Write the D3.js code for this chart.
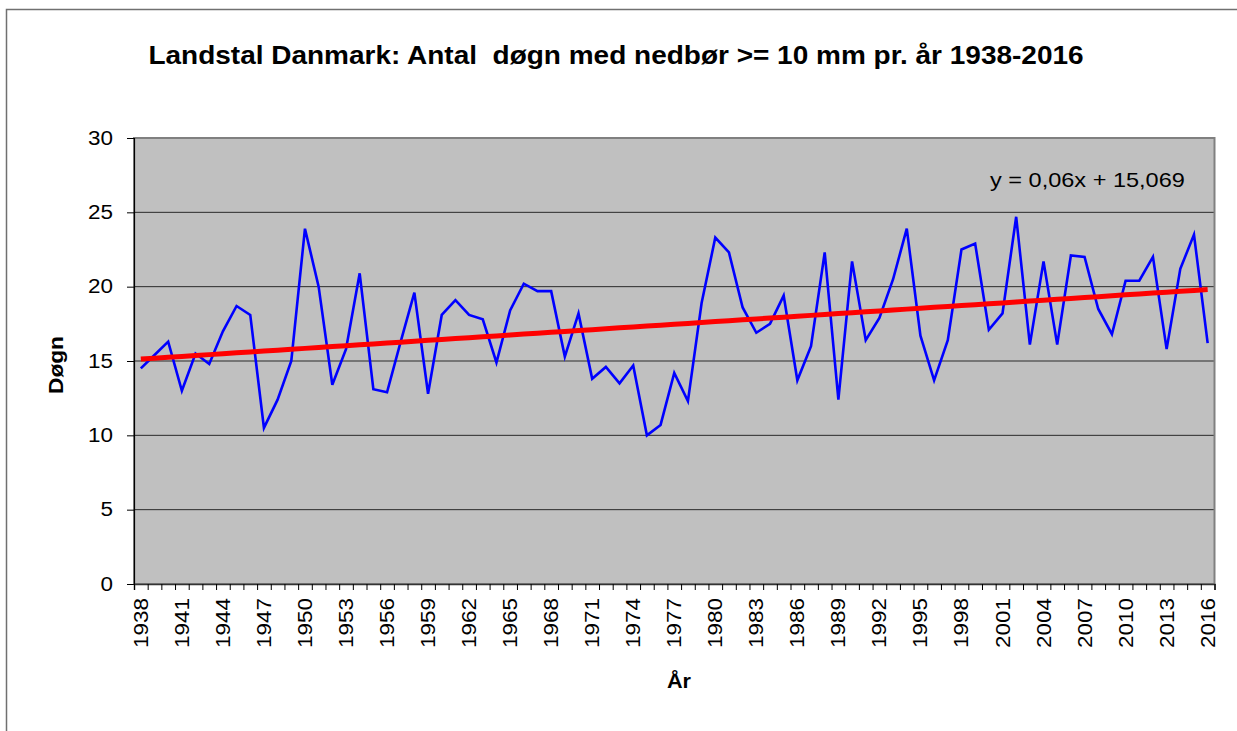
<!DOCTYPE html>
<html><head><meta charset="utf-8">
<script src="https://cdn.jsdelivr.net/npm/d3@7"></script>
<style>
body{margin:0;background:#fff}
svg{display:block}
text{font-family:Arial,"Liberation Sans",sans-serif;fill:#000}
</style>
</head><body>
<svg id="c" width="1237" height="731"></svg>
<script>
const years = [1938,1939,1940,1941,1942,1943,1944,1945,1946,1947,
  1948,1949,1950,1951,1952,1953,1954,1955,1956,1957,
  1958,1959,1960,1961,1962,1963,1964,1965,1966,1967,
  1968,1969,1970,1971,1972,1973,1974,1975,1976,1977,
  1978,1979,1980,1981,1982,1983,1984,1985,1986,1987,
  1988,1989,1990,1991,1992,1993,1994,1995,1996,1997,
  1998,1999,2000,2001,2002,2003,2004,2005,2006,2007,
  2008,2009,2010,2011,2012,2013,2014,2015,2016];
const days = [14.5,15.4,16.3,13.0,15.5,14.8,17.0,18.7,18.1,10.5,
  12.4,15.0,23.9,20.0,13.4,15.8,20.9,13.1,12.9,16.3,
  19.6,12.8,18.1,19.1,18.1,17.8,14.9,18.4,20.2,19.7,
  19.7,15.3,18.2,13.8,14.6,13.5,14.7,10.0,10.7,14.2,
  12.3,18.9,23.3,22.3,18.6,16.9,17.5,19.4,13.7,16.0,
  22.3,12.4,21.7,16.4,17.9,20.5,23.9,16.7,13.7,16.4,
  22.5,22.9,17.1,18.2,24.7,16.1,21.7,16.1,22.1,22.0,
  18.5,16.8,20.4,20.4,22.0,15.8,21.2,23.5,16.2];
const yTicks = [0,5,10,15,20,25,30];
const gridValues = [5,10,15,20,25];
const xLabelYears = [1938,1941,1944,1947,1950,1953,1956,1959,1962,1965,1968,1971,1974,1977,
  1980,1983,1986,1989,1992,1995,1998,2001,2004,2007,2010,2013,2016];
const trendSlope = 0.06;
const trendIntercept = 15.069;
const titleText = "Landstal Danmark: Antal  døgn med nedbør >= 10 mm pr. år 1938-2016";
const yTitle = "Døgn";
const xTitle = "År";
const eqText = "y = 0,06x + 15,069";

const svg = d3.select("#c");
const L = 134, R = 1214.5, T = 138, B = 584;

function stretch(sel, k){
  sel.each(function(){
    const len = this.getComputedTextLength();
    this.setAttribute("textLength", len * k);
    this.setAttribute("lengthAdjust", "spacingAndGlyphs");
  });
}

// outer frame
svg.append("rect").attr("x",6.5).attr("y",9.5).attr("width",1300).attr("height",800)
  .attr("fill","none").attr("stroke","#707070").attr("stroke-width",1.5);

const x = d3.scaleBand().domain(years).range([L,R]);
const xi = d3.scaleLinear().domain([0, years.length]).range([L,R]);
const y = d3.scaleLinear().domain([0,30]).range([B,T]);
const cx = d => x(d) + x.bandwidth()/2;

// plot area
svg.append("rect").attr("x",L).attr("y",T).attr("width",R-L).attr("height",B-T).attr("fill","#C0C0C0");

// gridlines
svg.append("g").selectAll("line").data(gridValues).join("line")
  .attr("x1",L).attr("x2",R).attr("y1",d=>y(d)).attr("y2",d=>y(d))
  .attr("stroke","#2a2a2a").attr("stroke-width",1);

// plot border
svg.append("rect").attr("x",L).attr("y",T).attr("width",R-L).attr("height",B-T)
  .attr("fill","none").attr("stroke","#808080").attr("stroke-width",2);

// data line
svg.append("path").datum(years.map((yr,i)=>[yr,days[i]]))
  .attr("fill","none").attr("stroke","#0000FF").attr("stroke-width",2.6).attr("stroke-linejoin","miter")
  .attr("d", d3.line().x(d=>cx(d[0])).y(d=>y(d[1])));

// trend line
svg.append("path").datum(years.map((yr,i)=>[yr, trendSlope*(i+1)+trendIntercept]))
  .attr("fill","none").attr("stroke","#FF0000").attr("stroke-width",5)
  .attr("d", d3.line().x(d=>cx(d[0])).y(d=>y(d[1])));

// y axis
const ya = svg.append("g").attr("transform",`translate(${L},0)`)
  .call(d3.axisLeft(y).tickValues(yTicks).tickSize(7).tickPadding(14));
ya.select(".domain").attr("stroke","#000").attr("stroke-width",1.2);
ya.selectAll(".tick line").attr("stroke","#000");
ya.selectAll(".tick text").attr("font-size","19.5px").attr("font-family","Arial, 'Liberation Sans', sans-serif").attr("fill","#000").call(stretch,1.15);

// x axis ticks
const xa = svg.append("g").attr("transform",`translate(0,${B})`)
  .call(d3.axisBottom(xi).tickValues(d3.range(years.length+1)).tickSize(6).tickFormat(""));
xa.select(".domain").attr("stroke","#333").attr("stroke-width",1.5);
xa.selectAll(".tick line").attr("stroke","#000");

// x labels
svg.append("g").selectAll("text").data(xLabelYears).join("text")
  .attr("transform", d=>`translate(${cx(d)},${B+14}) rotate(-90)`)
  .attr("text-anchor","end").attr("dominant-baseline","central")
  .attr("font-size","19.5px").text(d=>d).call(stretch,1.15);

// title
svg.append("text").attr("x",616).attr("y",64).attr("text-anchor","middle")
  .attr("font-size","26.5px").attr("font-weight","bold").style("white-space","pre")
  .text(titleText).call(stretch,1.056);

// axis titles
svg.append("text").attr("transform",`translate(63,${(T+B)/2+4}) rotate(-90)`)
  .attr("text-anchor","middle").attr("font-size","21px").attr("font-weight","bold")
  .text(yTitle).call(stretch,1.08);
svg.append("text").attr("x",679).attr("y",688).attr("text-anchor","middle")
  .attr("font-size","21px").attr("font-weight","bold").text(xTitle).call(stretch,1.03);

// equation
svg.append("text").attr("x",990).attr("y",187).attr("text-anchor","start")
  .attr("font-size","21px").text(eqText).call(stretch,1.12);
</script>
</body></html>
